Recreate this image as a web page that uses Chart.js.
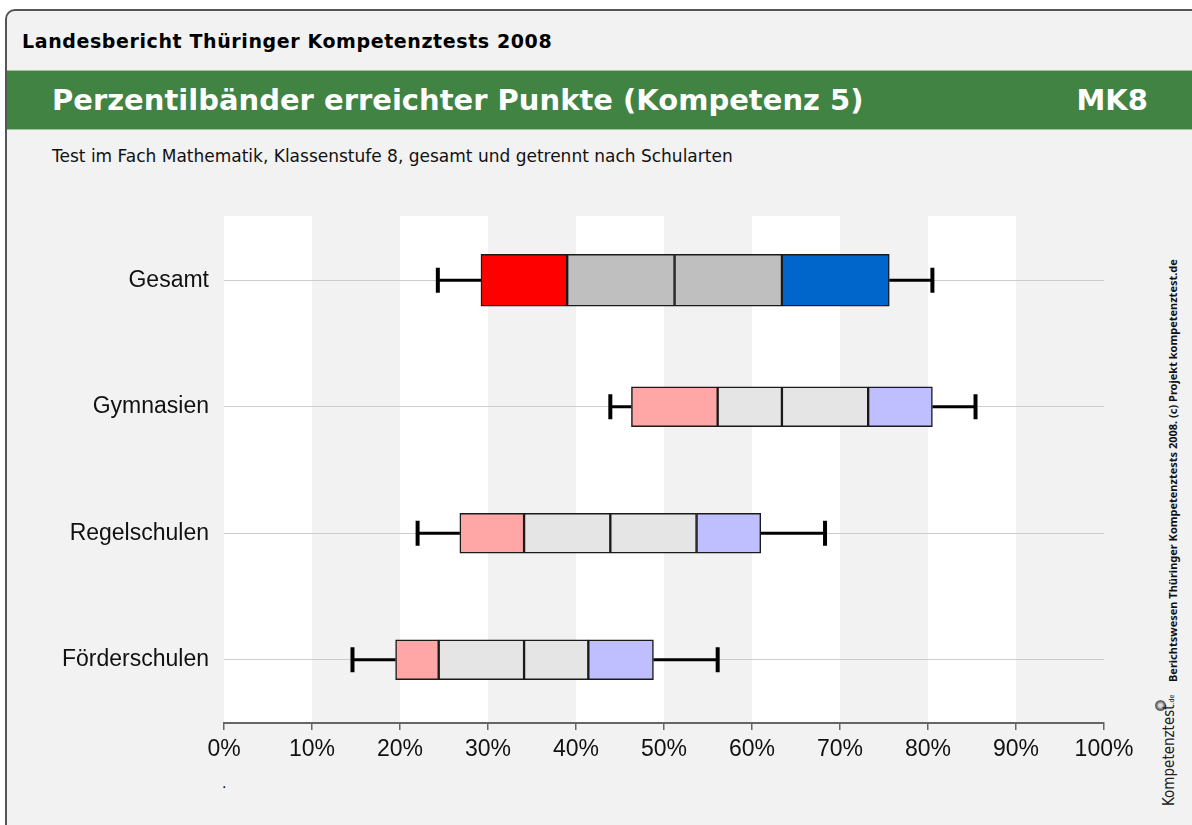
<!DOCTYPE html>
<html>
<head>
<meta charset="utf-8">
<script src="https://cdn.jsdelivr.net/npm/chart.js@4"></script>
<style>
  html, body { margin: 0; padding: 0; background: #fff; width: 1192px; height: 825px; overflow: hidden; }
  body { position: relative; font-family: "DejaVu Sans", "Noto Sans", sans-serif; }
  #frame { position: absolute; left: 5px; top: 9px; width: 1200px; height: 840px; border: 2px solid #555; border-top-left-radius: 10px; background: #f2f2f2; }
  #report { position: absolute; left: 22px; top: 30px; font-weight: bold; font-size: 19px; letter-spacing: 0.6px; color: #000; }
  #band { position: absolute; left: 7px; top: 70px; width: 1190px; height: 58px; background: #418343; border-top: 1px solid #9dc09d; border-bottom: 1px solid #9dc09d; }
  #title { position: absolute; left: 52px; top: 83px; font-weight: bold; font-size: 29px; color: #fff; }
  #code { position: absolute; right: 44px; top: 83px; font-weight: bold; font-size: 29px; color: #fff; }
  #subtitle { position: absolute; left: 52px; top: 146px; font-size: 17px; color: #111; }
  #side { position: absolute; left: 1165px; top: 682px; transform-origin: 0 0; transform: rotate(-90deg); font-weight: bold; font-size: 11px; white-space: nowrap; color: #111; font-family: "Noto Sans", sans-serif; }
  #logo { position: absolute; left: 1160px; top: 806px; transform-origin: 0 0; transform: rotate(-90deg); font-size: 15px; white-space: nowrap; color: #222; font-family: "DejaVu Sans Condensed", "Liberation Sans Narrow", "Noto Sans", sans-serif; }
  #logo small { font-size: 7px; }
  #swirl { position: absolute; left: 1155px; top: 700px; width: 11px; height: 11px; border-radius: 50%; background: radial-gradient(circle, #ddd 20%, #555 60%, #ccc 100%); }
  #dot { position: absolute; left: 222px; top: 775px; font-size: 14px; }
  #chart { position: absolute; left: 0; top: 0; }
</style>
</head>
<body>
<div id="frame"></div>
<div id="report">Landesbericht Thüringer Kompetenztests 2008</div>
<div id="band"></div>
<div id="title">Perzentilbänder erreichter Punkte (Kompetenz 5)</div>
<div id="code">MK8</div>
<div id="subtitle">Test im Fach Mathematik, Klassenstufe 8, gesamt und getrennt nach Schularten</div>
<div id="side">Berichtswesen Thüringer Kompetenztests 2008. (c) Projekt kompetenztest.de</div>
<div id="swirl"></div>
<div id="logo">Kompetenztest<small>.de</small></div>
<div id="dot">.</div>
<canvas id="chart" width="1192" height="825"></canvas>
<script>
const categories = ['Gesamt', 'Gymnasien', 'Regelschulen', 'Förderschulen'];
// percentiles in % of points
const p05 = [24.3, 43.9, 22.0, 14.6];
const p10 = [29.2, 46.3, 26.8, 19.5];
const p25 = [39.0, 56.1, 34.1, 24.4];
const p50 = [51.2, 63.4, 43.9, 34.1];
const p75 = [63.4, 73.2, 53.7, 41.4];
const p90 = [75.6, 80.5, 61.0, 48.8];
const p95 = [80.5, 85.4, 68.3, 56.1];

const strongColors = ['#ff0000', '#bfbfbf', '#bfbfbf', '#0066cc'];
const lightColors = ['#ffa6a6', '#e5e5e5', '#e5e5e5', '#bfbfff'];

function segments(rows, colors, thickness) {
  const bounds = [[p10, p25], [p25, p50], [p50, p75], [p75, p90]];
  return bounds.map(([lo, hi], k) => ({
    data: categories.map((c, i) => rows.includes(i) ? [lo[i], hi[i]] : null),
    backgroundColor: colors[k],
    borderColor: '#1a1a1a',
    borderWidth: 1.5,
    borderSkipped: false,
    barThickness: thickness,
    grouped: false
  }));
}

const bandsPlugin = {
  id: 'bands',
  beforeDraw(chart) {
    const { ctx, chartArea, scales } = chart;
    ctx.save();
    ctx.fillStyle = '#ffffff';
    const ticks = scales.x.ticks;
    for (let i = 0; i < ticks.length - 1; i += 2) {
      const x0 = scales.x.getPixelForValue(ticks[i].value);
      const x1 = scales.x.getPixelForValue(ticks[i + 1].value);
      ctx.fillRect(x0, chartArea.top - 1, x1 - x0, chartArea.bottom - chartArea.top + 1);
    }
    ctx.restore();
  }
};

const whiskerPlugin = {
  id: 'whiskers',
  beforeDatasetsDraw(chart) {
    const { ctx, scales } = chart;
    const x = scales.x, y = scales.y;
    ctx.save();
    ctx.strokeStyle = '#000';
    categories.forEach((c, i) => {
      const yc = y.getPixelForValue(i);
      ctx.lineWidth = 3;
      [[p05[i], p10[i]], [p90[i], p95[i]]].forEach(([a, b]) => {
        ctx.beginPath();
        ctx.moveTo(x.getPixelForValue(a), yc);
        ctx.lineTo(x.getPixelForValue(b), yc);
        ctx.stroke();
      });
      ctx.lineWidth = 4;
      [p05[i], p95[i]].forEach(v => {
        const px = x.getPixelForValue(v);
        ctx.beginPath();
        ctx.moveTo(px, yc - 12.5);
        ctx.lineTo(px, yc + 12.5);
        ctx.stroke();
      });
    });
    ctx.restore();
  }
};

const axisFont = { family: '"Liberation Sans", Arial, sans-serif', size: 23 };

new Chart(document.getElementById('chart').getContext('2d'), {
  type: 'bar',
  data: {
    labels: categories,
    datasets: [...segments([0], strongColors, 52), ...segments([1, 2, 3], lightColors, 40)]
  },
  options: {
    indexAxis: 'y',
    responsive: false,
    animation: false,
    devicePixelRatio: 1,
    layout: { padding: { left: 0, top: 217, right: 88, bottom: 42 } },
    plugins: { legend: { display: false }, tooltip: { enabled: false } },
    scales: {
      x: {
        min: 0,
        max: 100,
        ticks: { stepSize: 10, callback: v => v + '%', font: axisFont, color: '#111', padding: 6, maxRotation: 0 },
        grid: { drawOnChartArea: false, drawTicks: true, tickLength: 7, color: '#666', lineWidth: 1.5 },
        border: { color: '#666', width: 2 },
        afterFit(scale) { scale.height = 60; }
      },
      y: {
        ticks: { font: axisFont, color: '#111', padding: 15 },
        grid: { offset: false, drawTicks: false, color: '#cccccc', lineWidth: 1 },
        border: { display: false },
        afterFit(scale) { scale.width = 224; }
      }
    }
  },
  plugins: [bandsPlugin, whiskerPlugin]
});
</script>
</body>
</html>
